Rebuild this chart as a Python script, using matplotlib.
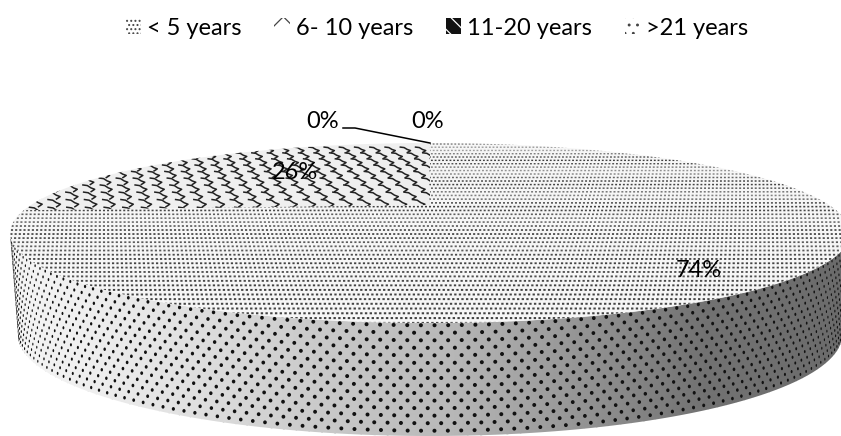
import numpy as np
import matplotlib
matplotlib.use("Agg")
import matplotlib.pyplot as plt
from matplotlib.collections import EllipseCollection, LineCollection, PolyCollection
from matplotlib.patches import Patch, Polygon

# Years of experience and their share of respondents
categories = ["< 5 years", "6- 10 years", "11-20 years", ">21 years"]
shares = [0, 0, 74, 26]

plt.rcParams["font.family"] = ["Lato", "DejaVu Sans"]
plt.rcParams["hatch.linewidth"] = 0.9

W, H = 841, 436
fig = plt.figure(figsize=(W / 100, H / 100), dpi=100)
ax = fig.add_axes([0, 0, 1, 1])
ax.set_xlim(0, W)
ax.set_ylim(H, 0)
ax.axis("off")

# Perspective of the disc's top face
CX, APEX_Y = 430.0, 205.0
PERSP, AY, AX = -0.311, 17.5, 399.0


def project(theta):
    """Map a clockwise angle from twelve o'clock onto the tilted disc rim."""
    u, v = np.sin(theta), -np.cos(theta)
    d = 1 + PERSP * v
    return CX + AX * u / d, (AY * v + APEX_Y) / d


def wedge(start, stop):
    t = np.radians(np.linspace(start, stop, 300))
    x, y = project(t)
    return np.vstack([[CX, APEX_Y], np.column_stack([x, y])])


bounds = np.concatenate([[0], np.cumsum(shares)]) * 3.6
wedge_big = wedge(bounds[2], bounds[3])
wedge_small = wedge(bounds[3], bounds[4])

# Rim of the cylinder wall, top and bottom
t = np.linspace(0, np.pi, 400)
top_rim = np.column_stack([CX + 420 * np.cos(t), 233 + 90 * np.sin(t)])
bot_rim = np.column_stack([CX + 412 * np.cos(t), 335 + 101 * np.sin(t)])
wall = Polygon(np.vstack([top_rim, bot_rim[::-1]]), closed=True, fc="none", ec="none",
               transform=ax.transData)
ax.add_patch(wall)

# Wall shading runs from pale on the left to dark on the right
xs = np.arange(W)
shade = np.interp(xs, [10, 100, 200, 300, 450, 600, 700, 841],
                  [0.96, 0.93, 0.87, 0.80, 0.72, 0.56, 0.45, 0.42])
img = ax.imshow(shade[None, :], extent=[0, W, H, 0], cmap="gray", vmin=0, vmax=1,
                aspect="auto", zorder=1, interpolation="bilinear")
img.set_clip_path(wall)
ax.set_xlim(0, W)
ax.set_ylim(H, 0)

# Dots on the wall, staggered and foreshortened towards the edges
offs, ws, hs = [], [], []
rows = 15
for r in range(rows + 1):
    f = (r + 0.3) / rows
    for k, tt in enumerate(np.arange(0.0, np.pi + 0.01, 0.0325)):
        tv = tt + (0.01625 if r % 2 else 0.0)
        x = CX + (420 - 8 * f) * np.cos(tv)
        y = (233 + 102 * f) + (90 + 11 * f) * np.sin(tv)
        offs.append((x, y))
        sq = max(np.sin(tv), 0.3)
        ws.append(4.0 * sq)
        hs.append(4.0 * (0.6 + 0.4 * sq))
dots = EllipseCollection(ws, hs, np.zeros(len(ws)), units="xy", offsets=offs,
                         offset_transform=ax.transData, facecolors="#111111",
                         linewidths=0, zorder=2)
ax.add_collection(dots)
dots.set_clip_path(wall)

# Top-face slices
big = Polygon(wedge_big, closed=True, fc="#f6f6f6", ec="none", zorder=3)
small = Polygon(wedge_small, closed=True, fc="#efefef", ec="none", zorder=3)
ax.add_patch(big)
ax.add_patch(small)

# Fine dash texture on the large slice
quads, greys = [], []
y = 144.0
row = 0
while y < 326:
    f = min((y - 143) / 180, 1.0)
    sx = 3.6 + 1.2 * f
    sy = 3.2 + 1.7 * f
    dw, dh = 0.50 * sx, 0.42 * sy
    band = 0.5 + 0.5 * np.sin(row * 0.95)
    tone = 0.25 + 0.40 * band * (1 - f) ** 1.3
    for i in range(-140, 141):
        x = CX + (i + (0.5 if row % 2 else 0)) * sx
        quads.append([(x - dw / 2, y - dh / 2), (x + dw / 2, y - dh / 2),
                      (x + dw / 2, y + dh / 2), (x - dw / 2, y + dh / 2)])
        greys.append(tone)
    y += sy
    row += 1
dashes = PolyCollection(quads, facecolors=[str(min(g, 0.8)) for g in greys], linewidths=0,
                        zorder=4, snap=False)
ax.add_collection(dashes)
dashes.set_clip_path(big)

# Interlocking wavy tiles on the small slice
segs = []
y = 147.0
row = 0
while y < 218:
    f = (y - 143) / 70
    px = 15.0 + 4.0 * f
    hy = 5.6 + 2.6 * f
    for i in range(-30, 3):
        x0 = CX + (i + (0.5 if row % 2 else 0)) * px
        segs.append([(x0, y), (x0 + 0.30 * px, y + 0.10 * hy), (x0 + 0.50 * px, y + 0.42 * hy),
                     (x0 + 0.72 * px, y + 0.62 * hy), (x0 + 0.60 * px, y + 0.82 * hy),
                     (x0 + 0.48 * px, y + 1.0 * hy)])
    y += hy
    row += 1
tiles = LineCollection(segs, colors="#222222", linewidths=1.1, zorder=4)
ax.add_collection(tiles)
tiles.set_clip_path(small)

# Percentage labels and the leader for the crowded zero slices
label_pos = [(323, 121), (428, 121), (699, 270), (295, 172)]
for value, (lx, ly) in zip(shares, label_pos):
    ax.text(lx, ly, f"{value}%", ha="center", va="center", fontsize=17, color="black", zorder=6)
lead_x, lead_y = project(np.radians(bounds[1]))
ax.plot([343, 355, lead_x], [128, 128, lead_y], color="black", lw=1.1, zorder=6,
        solid_joinstyle="miter")

# Legend swatches carry a small version of each texture
handles = [Patch(fc="white", ec="#444444", lw=0, hatch="...."),
           Patch(fc="white", ec="#444444", lw=0, hatch="/\\"),
           Patch(fc="#111111", ec="white", lw=0, hatch="\\\\"),
           Patch(fc="white", ec="#444444", lw=0, hatch="..")]
fig.legend(handles, categories, loc="center", bbox_to_anchor=(437 / W, 1 - 28 / H), ncol=4,
           frameon=False, fontsize=17, handlelength=0.65, handleheight=0.65, handletextpad=0.25,
           columnspacing=1.4, labelcolor="black", borderpad=0)

fig.savefig("out.png", dpi=100)
